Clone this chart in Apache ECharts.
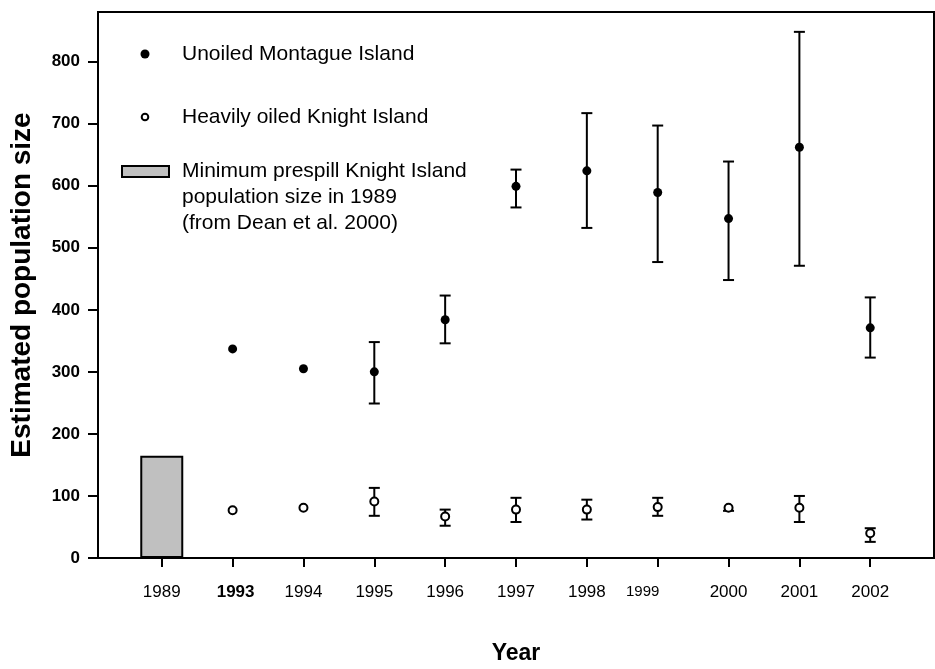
<!DOCTYPE html>
<html>
<head>
<meta charset="utf-8">
<script src="https://cdn.jsdelivr.net/npm/echarts@6/dist/echarts.min.js"></script>
<style>
  html, body { margin: 0; padding: 0; background: #fff; }
  #chart { width: 935px; height: 669px; }
</style>
</head>
<body>
<div id="chart"></div>
<script>
  // 横轴上的年份（按位置排列，间距相等）
  const years = ['1989', '1993', '1994', '1995', '1996', '1997', '1998', '1999', '2000', '2001', '2002'];
  const prespill = [165];  // 1989 的最小种群
  const montague = [null, 337, 305, 300, 384, 599, 624, 589, 547, 662, 371];
  const montagueLow = [null, null, null, 249, 346, 565, 532, 477, 448, 471, 323];
  const montagueHigh = [null, null, null, 348, 423, 626, 717, 697, 639, 848, 420];
  const knight = [null, 77, 81, 91, 67, 78, 78, 82, 81, 81, 40];
  const knightLow = [null, null, null, 68, 52, 58, 62, 68, 76, 58, 26];
  const knightHigh = [null, null, null, 113, 78, 97, 94, 97, null, 100, 48];
  const yTicks = [0, 100, 200, 300, 400, 500, 600, 700, 800];

  const font = 'Liberation Sans, Arial, sans-serif';

  function points(vals) {
    let out = [];
    vals.forEach(function (v, i) { if (v != null) out.push([i, v]); });
    return out;
  }
  function bars(lo, hi) {
    let out = [];
    lo.forEach(function (v, i) {
      if (v != null || hi[i] != null) out.push([i, v == null ? '-' : v, hi[i] == null ? '-' : hi[i]]);
    });
    return out;
  }

  // 误差线：竖线加上下两个短横
  function renderError(params, api) {
    let x = api.value(0);
    let lo = api.value(1), hi = api.value(2);
    let children = [];
    let style = { stroke: '#000', lineWidth: 2 };
    let w = 5.5;
    let ends = [];
    if (!isNaN(lo)) ends.push(api.coord([x, lo]));
    if (!isNaN(hi)) ends.push(api.coord([x, hi]));
    if (ends.length === 2) {
      children.push({ type: 'line', shape: { x1: ends[0][0], y1: ends[0][1], x2: ends[1][0], y2: ends[1][1] }, style: style });
    }
    ends.forEach(function (p) {
      children.push({ type: 'line', shape: { x1: p[0] - w, y1: p[1], x2: p[0] + w, y2: p[1] }, style: style });
    });
    return { type: 'group', children: children };
  }

  let chart = echarts.init(document.getElementById('chart'));
  let option = {
    animation: false,
    textStyle: { fontFamily: font },
    grid: {
      left: 98, right: 1, top: 12, bottom: 111,
      outerBoundsMode: 'none', containLabel: false,
      show: true, borderColor: '#000', borderWidth: 2
    },
    xAxis: {
      type: 'value',
      min: -0.9,
      max: 10.9,
      name: 'Year',
      nameLocation: 'middle',
      nameGap: 84,
      nameTextStyle: { fontSize: 23, fontWeight: 'bold', color: '#000', fontFamily: font },
      axisLine: { onZero: false, lineStyle: { color: '#000', width: 2 } },
      axisTick: { customValues: years.map(function (y, i) { return i; }), length: 9, lineStyle: { color: '#000', width: 2 } },
      axisLabel: {
        customValues: years.map(function (y, i) { return i; }),
        margin: 26,
        fontSize: 17,
        color: '#000',
        formatter: function (v) {
          let y = years[Math.round(v)];
          if (y === '1993') return '{b|' + y + '}';
          if (y === '1999') return '{s|' + y + '}';
          return y;
        },
        rich: {
          b: { fontSize: 17, fontWeight: 'bold', color: '#000', fontFamily: font, padding: [0, 0, 0, 6] },
          s: { fontSize: 15, color: '#000', fontFamily: font, padding: [0, 30, 0, 0] }
        }
      },
      splitLine: { show: false }
    },
    yAxis: {
      type: 'value',
      min: 0,
      max: 880,
      name: 'Estimated population size',
      nameLocation: 'middle',
      nameGap: 62,
      nameRotate: 90,
      nameTextStyle: { fontSize: 28, fontWeight: 'bold', color: '#000', fontFamily: font },
      axisLine: { show: true, onZero: false, lineStyle: { color: '#000', width: 2 } },
      axisTick: { show: true, customValues: yTicks, length: 10, lineStyle: { color: '#000', width: 2 } },
      axisLabel: { customValues: yTicks, margin: 18, fontSize: 17, fontWeight: 'bold', color: '#000' },
      splitLine: { show: false }
    },
    graphic: [
      { type: 'circle', shape: { cx: 145, cy: 54, r: 4.5 }, style: { fill: '#000' } },
      { type: 'text', left: 182, top: 44, style: { text: 'Unoiled Montague Island', fontSize: 21, fontFamily: font, fill: '#000' } },
      { type: 'circle', shape: { cx: 145, cy: 117, r: 3.3 }, style: { fill: '#fff', stroke: '#000', lineWidth: 2 } },
      { type: 'text', left: 182, top: 107, style: { text: 'Heavily oiled Knight Island', fontSize: 21, fontFamily: font, fill: '#000' } },
      { type: 'rect', shape: { x: 122, y: 166, width: 47, height: 11 }, style: { fill: '#c0c0c0', stroke: '#000', lineWidth: 2 } },
      { type: 'text', left: 182, top: 158, style: { text: 'Minimum prespill Knight Island\npopulation size in 1989\n(from Dean et al. 2000)', fontSize: 21, lineHeight: 26, fontFamily: font, fill: '#000' } }
    ],
    series: [
      {
        name: 'prespill',
        type: 'bar',
        barWidth: 43,
        data: prespill.map(function (v, i) { return [i, v]; }),
        itemStyle: { color: '#c0c0c0', borderColor: '#000', borderWidth: 2 }
      },
      {
        type: 'custom',
        renderItem: renderError,
        data: bars(montagueLow, montagueHigh),
        z: 3
      },
      {
        type: 'custom',
        renderItem: renderError,
        data: bars(knightLow, knightHigh),
        z: 3
      },
      {
        name: 'Unoiled Montague Island',
        type: 'scatter',
        symbolSize: 9,
        data: points(montague),
        itemStyle: { color: '#000', opacity: 1 },
        z: 4
      },
      {
        name: 'Heavily oiled Knight Island',
        type: 'scatter',
        symbolSize: 8,
        data: points(knight),
        itemStyle: { color: '#fff', borderColor: '#000', borderWidth: 2, opacity: 1 },
        z: 4
      }
    ]
  };
  chart.setOption(option);
</script>
</body>
</html>
